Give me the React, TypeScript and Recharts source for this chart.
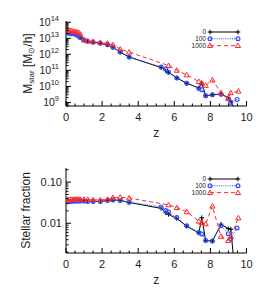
import React from 'react';
import { ScatterChart, Scatter, XAxis, YAxis, Legend } from 'recharts';

// ---------- data ----------
const zBlack = [0, 0.05, 0.1, 0.2, 0.3, 0.4, 0.5, 0.6, 0.7, 0.8, 1.0, 1.2, 1.5, 1.9, 2.3, 2.6, 3.0, 3.5, 5.27, 5.53, 5.68, 6.14, 6.69, 7.36, 7.52, 7.74, 8.11, 8.59, 8.99, 9.13, 9.3];
const zBlue = [0, 0.05, 0.1, 0.2, 0.3, 0.4, 0.5, 0.6, 0.7, 0.8, 1.0, 1.2, 1.5, 1.9, 2.3, 2.6, 3.0, 3.5, 5.27, 5.53, 5.68, 6.14, 6.69, 7.36, 7.52, 7.74, 8.11, 8.59, 8.99, 9.13, 9.48];
const zRed = [0, 0.05, 0.1, 0.2, 0.3, 0.4, 0.5, 0.6, 0.7, 0.8, 1.0, 1.2, 1.5, 1.9, 2.3, 2.6, 3.0, 3.5, 5.68, 6.14, 6.69, 7.36, 7.52, 7.74, 8.11, 8.59, 8.99, 9.13, 9.55];

const mstarBlack = [2.2e13, 2.2e13, 2.15e13, 2.1e13, 2.0e13, 1.95e13, 1.86e13, 1.6e13, 1.35e13, 1.1e13, 7.9e12, 6.6e12, 5.75e12, 5.0e12, 3.9e12, 2.75e12, 1.38e12, 6.8e11, 1.5e11, 9.5e10, 7.6e10, 3.4e10, 1.58e10, 8.0e9, 1.6e10, 2.6e9, 3.0e9, 3.3e9, 2.0e9, 1.2e9, 4.5e8];
const mstarBlue = [2.24e13, 2.2e13, 2.15e13, 2.05e13, 1.95e13, 1.9e13, 1.86e13, 1.58e13, 1.32e13, 1.1e13, 7.9e12, 6.6e12, 5.75e12, 5.0e12, 3.9e12, 2.75e12, 1.38e12, 6.8e11, 1.62e11, 1.26e11, 7.6e10, 3.4e10, 1.58e10, 7.4e9, 6.3e9, 2.6e9, 3.0e9, 3.2e9, 1.7e9, 9.8e8, 1.55e9];
const mstarRed = [3.55e13, 3.4e13, 3.3e13, 3.15e13, 2.95e13, 2.75e13, 2.6e13, 2.45e13, 2.3e13, 1.8e13, 7.9e12, 6.8e12, 6.3e12, 5.5e12, 4.9e12, 3.9e12, 2.1e12, 1.38e12, 2.0e11, 1.0e11, 5.2e10, 2.0e10, 1.6e10, 1.15e10, 2.5e10, 4.0e9, 1.8e9, 4.0e9, 5.0e9];

const fracBlack = [0.034, 0.034, 0.034, 0.034, 0.034, 0.035, 0.035, 0.035, 0.035, 0.035, 0.035, 0.034, 0.034, 0.034, 0.036, 0.037, 0.036, 0.032, 0.023, 0.018, 0.0165, 0.013, 0.0085, 0.0058, 0.0137, 0.0038, 0.0037, 0.0095, 0.0074, 0.0072, 0.0012];
const fracBlue = [0.034, 0.034, 0.034, 0.034, 0.034, 0.035, 0.035, 0.035, 0.035, 0.035, 0.035, 0.034, 0.034, 0.034, 0.036, 0.037, 0.036, 0.0325, 0.025, 0.0205, 0.0187, 0.0138, 0.0087, 0.006, 0.0055, 0.0038, 0.0037, 0.0087, 0.0056, 0.0042, 0.0077];
const fracRed = [0.036, 0.037, 0.037, 0.038, 0.038, 0.038, 0.038, 0.038, 0.038, 0.038, 0.038, 0.038, 0.037, 0.037, 0.038, 0.042, 0.043, 0.041, 0.028, 0.024, 0.019, 0.0112, 0.0104, 0.0097, 0.026, 0.0048, 0.0038, 0.0048, 0.0135];

const seriesNames = ['0', '100', '1000'];
const xMajorTicks = [0, 2, 4, 6, 8, 10];
const xMinorTicks = [0.5, 1, 1.5, 2.5, 3, 3.5, 4.5, 5, 5.5, 6.5, 7, 7.5, 8.5, 9, 9.5];
const yTopMajor = [1e9, 1e10, 1e11, 1e12, 1e13, 1e14];
const yTopDomain = [6e8, 1.2e14];
const yBotMajor = [0.01, 0.1];
const yBotLabels = ['0.01', '0.10'];
const yBotDomain = [0.0019, 0.22];

// ---------- styles ----------
const FONT = '"Liberation Sans", Arial, Helvetica, sans-serif';
const TXT = '#222';
const BLACK = '#000';
const BLUE = '#2f4cff';
const RED = '#ff2a2a';
const W = 266;
const H = 147;
const MARGIN = { top: 21, right: 19.5, bottom: 11, left: 16 };

const toPts = (zs: number[], vs: number[]) => zs.map((z, i) => ({ z, v: vs[i] }));

function logMinor(domain: number[]) {
  const out: number[] = [];
  const lo = Math.floor(Math.log10(domain[0]));
  const hi = Math.ceil(Math.log10(domain[1]));
  for (let e = lo; e <= hi; e++) {
    for (let m = 1; m <= 9; m++) {
      const v = m * Math.pow(10, e);
      if (v >= domain[0] && v <= domain[1]) out.push(v);
    }
  }
  return out;
}
const isIn = (arr: number[], v: number) => arr.some((a) => Math.abs(a - v) <= Math.abs(a) * 1e-9 + 1e-12);

const allXTicks = [...xMajorTicks, ...xMinorTicks].sort((a, b) => a - b);

const XTickBottom = (p: any) => {
  const { x, y, payload } = p;
  const major = isIn(xMajorTicks, payload.value);
  return (
    <g>
      <line x1={x} x2={x} y1={y} y2={y - (major ? 5 : 2.5)} stroke={BLACK} strokeWidth={1} />
      {major && (
        <text x={x} y={y + 15} textAnchor="middle" fontSize={11} fill={TXT} fontFamily={FONT}>
          {payload.value}
        </text>
      )}
    </g>
  );
};
const XTickTop = (p: any) => {
  const { x, y, payload } = p;
  const major = isIn(xMajorTicks, payload.value);
  return <line x1={x} x2={x} y1={y} y2={y + (major ? 5 : 2.5)} stroke={BLACK} strokeWidth={1} />;
};

const makeYTickLeft = (majors: number[], render: (v: number) => React.ReactNode) => (p: any) => {
  const { x, y, payload } = p;
  const major = isIn(majors, payload.value);
  return (
    <g>
      <line x1={x} x2={x + (major ? 5 : 2.5)} y1={y} y2={y} stroke={BLACK} strokeWidth={1} />
      {major ? <g transform={`translate(${x},${y})`}>{render(payload.value)}</g> : null}
    </g>
  );
};
const makeYTickRight = (majors: number[]) => (p: any) => {
  const { x, y, payload } = p;
  const major = isIn(majors, payload.value);
  return <line x1={x} x2={x - (major ? 5 : 2.5)} y1={y} y2={y} stroke={BLACK} strokeWidth={1} />;
};

const renderPow = (v: number) => (
  <text x={-7} y={4} textAnchor="end" fill={TXT} fontFamily={FONT} fontSize={10.5}>
    <tspan>10</tspan>
    <tspan dy={-5} fontSize={7.5}>{Math.round(Math.log10(v))}</tspan>
  </text>
);
const renderFrac = (v: number) => (
  <text x={-4} y={4} textAnchor="end" fill={TXT} fontFamily={FONT} fontSize={11}>
    {yBotLabels[yBotMajor.findIndex((m) => Math.abs(m - v) < m * 1e-9)]}
  </text>
);

const PlusShape = (p: any) => (
  <path d={`M${p.cx - 2.3},${p.cy}h4.6M${p.cx},${p.cy - 2.3}v4.6`} stroke={BLACK} strokeWidth={1} fill="none" />
);
const CircleShape = (p: any) => <circle cx={p.cx} cy={p.cy} r={1.9} stroke={BLUE} strokeWidth={1.2} fill="none" />;
const TriShape = (p: any) => (
  <path d={`M${p.cx},${p.cy - 2.6}L${p.cx + 2.6},${p.cy + 1.9}L${p.cx - 2.6},${p.cy + 1.9}Z`} stroke={RED} strokeWidth={1} fill="none" />
);

const LegendBox = () => {
  const rows = [
    { name: seriesNames[0], color: BLACK, dash: undefined as string | undefined, Mark: PlusShape },
    { name: seriesNames[1], color: BLUE, dash: '1 1.2', Mark: CircleShape },
    { name: seriesNames[2], color: RED, dash: '4 3', Mark: TriShape },
  ];
  return (
    <svg width={90} height={26} style={{ overflow: 'visible', display: 'block' }}>
      {rows.map((r, i) => {
        const y = 5 + i * 6.8;
        return (
          <g key={r.name}>
            <text x={36} y={y + 2.3} textAnchor="end" fontSize={6.5} fill={TXT} fontFamily={FONT}>
              {r.name}
            </text>
            <line x1={40} x2={68} y1={y} y2={y} stroke={r.color} strokeWidth={1} strokeDasharray={r.dash} />
            <r.Mark cx={40} cy={y} />
            <r.Mark cx={68} cy={y} />
          </g>
        );
      })}
    </svg>
  );
};

const XLabel = (p: any) => {
  const vb = p.viewBox;
  return (
    <text x={vb.x + vb.width / 2} y={vb.y + 31} textAnchor="middle" fontSize={12} fill={TXT} fontFamily={FONT}>
      z
    </text>
  );
};
const YLabelTop = (p: any) => {
  const vb = p.viewBox;
  const cx = vb.x + 11.5;
  const cy = vb.y + vb.height / 2;
  return (
    <text transform={`translate(${cx},${cy}) rotate(-90)`} textAnchor="middle" dominantBaseline="central" fontSize={12} fill={TXT} fontFamily={FONT}>
      <tspan>M</tspan>
      <tspan fontSize={8} dy={3}>star</tspan>
      <tspan dy={-3}> [M</tspan>
      <tspan fontSize={8} dy={3}>⊙</tspan>
      <tspan dy={-3}>/h]</tspan>
    </text>
  );
};
const YLabelBot = (p: any) => {
  const vb = p.viewBox;
  const cx = vb.x + 10;
  const cy = vb.y + vb.height / 2;
  return (
    <text transform={`translate(${cx},${cy}) rotate(-90)`} textAnchor="middle" dominantBaseline="central" fontSize={12} fill={TXT} fontFamily={FONT}>
      Stellar fraction
    </text>
  );
};

type PanelProps = {
  black: { z: number; v: number }[];
  blue: { z: number; v: number }[];
  red: { z: number; v: number }[];
  domain: number[];
  majors: number[];
  render: (v: number) => React.ReactNode;
  YLabel: (p: any) => React.ReactNode;
};

const Panel = ({ black, blue, red, domain, majors, render, YLabel }: PanelProps) => {
  const yTicks = logMinor(domain);
  const axisLine = { stroke: BLACK, strokeWidth: 1 };
  return (
    <ScatterChart width={W} height={H} margin={MARGIN}>
      <XAxis
        xAxisId={0}
        dataKey="z"
        type="number"
        domain={[0, 10]}
        ticks={allXTicks}
        interval={0}
        tickSize={0}
        tickMargin={0}
        tickLine={false}
        axisLine={axisLine}
        tick={XTickBottom}
        height={30}
        allowDataOverflow
        label={{ content: XLabel }}
      />
      <XAxis
        xAxisId="top"
        orientation="top"
        dataKey="z"
        type="number"
        domain={[0, 10]}
        ticks={allXTicks}
        interval={0}
        tickSize={0}
        tickMargin={0}
        tickLine={false}
        axisLine={axisLine}
        tick={XTickTop}
        height={0}
        allowDataOverflow
      />
      <YAxis
        yAxisId={0}
        dataKey="v"
        type="number"
        scale="log"
        domain={domain}
        ticks={yTicks}
        interval={0}
        tickSize={0}
        tickMargin={0}
        tickLine={false}
        axisLine={axisLine}
        tick={makeYTickLeft(majors, render)}
        width={50}
        allowDataOverflow
        label={{ content: YLabel }}
      />
      <YAxis
        yAxisId="right"
        orientation="right"
        dataKey="v"
        type="number"
        scale="log"
        domain={domain}
        ticks={yTicks}
        interval={0}
        tickSize={0}
        tickMargin={0}
        tickLine={false}
        axisLine={axisLine}
        tick={makeYTickRight(majors)}
        width={0}
        allowDataOverflow
      />
      <Scatter
        data={black}
        xAxisId={0}
        yAxisId={0}
        fill={BLACK}
        line={{ stroke: BLACK, strokeWidth: 1 }}
        shape={PlusShape}
        isAnimationActive={false}
      />
      <Scatter
        data={blue}
        xAxisId={0}
        yAxisId={0}
        fill={BLUE}
        line={{ stroke: BLUE, strokeWidth: 1, strokeDasharray: '1 1.2' }}
        shape={CircleShape}
        isAnimationActive={false}
      />
      <Scatter
        data={red}
        xAxisId={0}
        yAxisId={0}
        fill={RED}
        line={{ stroke: RED, strokeWidth: 1, strokeDasharray: '4 3' }}
        shape={TriShape}
        isAnimationActive={false}
      />
      <Legend
        layout="vertical"
        align="center"
        verticalAlign="middle"
        content={() => <LegendBox />}
        wrapperStyle={{ left: 170, top: 27, width: 90, height: 26 }}
      />
    </ScatterChart>
  );
};

export default function App() {
  return (
    <div style={{ position: 'absolute', left: 0, top: 0, width: W, height: 295, background: '#fff' }}>
      <div style={{ position: 'absolute', left: 0, top: 0 }}>
        <Panel
          black={toPts(zBlack, mstarBlack)}
          blue={toPts(zBlue, mstarBlue)}
          red={toPts(zRed, mstarRed)}
          domain={yTopDomain}
          majors={yTopMajor}
          render={renderPow}
          YLabel={YLabelTop}
        />
      </div>
      <div style={{ position: 'absolute', left: 0, top: 147 }}>
        <Panel
          black={toPts(zBlack, fracBlack)}
          blue={toPts(zBlue, fracBlue)}
          red={toPts(zRed, fracRed)}
          domain={yBotDomain}
          majors={yBotMajor}
          render={renderFrac}
          YLabel={YLabelBot}
        />
      </div>
    </div>
  );
}
